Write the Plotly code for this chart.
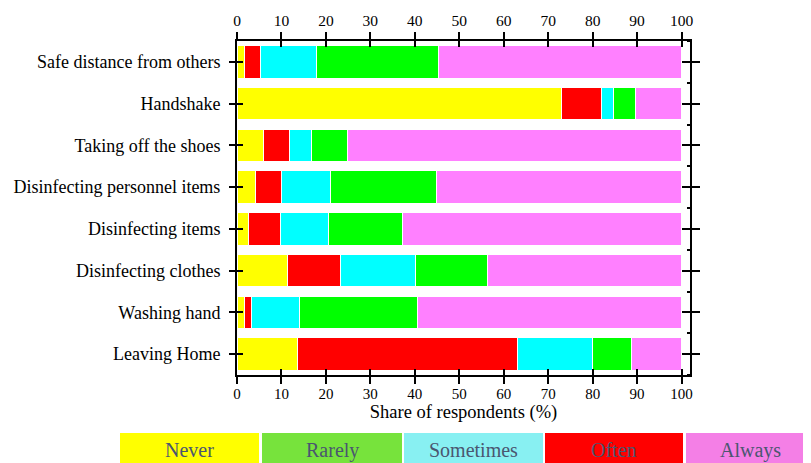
import plotly.graph_objects as go

categories = ["Safe distance from others", "Handshake", "Taking off the shoes",
              "Disinfecting personnel items", "Disinfecting items",
              "Disinfecting clothes", "Washing hand", "Leaving Home"]

never     = [1.6, 73.0, 5.9, 4.2, 2.6, 11.4, 1.7, 13.5]
often     = [3.7, 9.1, 5.8, 5.9, 7.1, 11.9, 1.5, 49.7]
sometimes = [12.6, 2.7, 5.0, 10.9, 10.8, 16.8, 10.8, 16.8]
rarely    = [27.4, 4.9, 8.1, 23.8, 16.7, 16.2, 26.5, 8.7]
always    = [54.7, 10.3, 75.2, 55.2, 62.8, 43.7, 59.5, 11.3]

x_ticks = [0, 10, 20, 30, 40, 50, 60, 70, 80, 90, 100]
x_title = "Share of respondents (%)"

legend_labels = ["Never", "Rarely", "Sometimes", "Often", "Always"]
legend_colors = ["#FFFF00", "#77E33C", "#88F0F2", "#FF0000", "#F47FE6"]

series = [("Never", never, "#FFFF00"), ("Often", often, "#FF0000"),
          ("Sometimes", sometimes, "#00FFFF"), ("Rarely", rarely, "#00FF00"),
          ("Always", always, "#FF80FF")]

SERIF = "Liberation Serif"

fig = go.Figure()
for name, vals, col in series:
    fig.add_trace(go.Bar(y=categories, x=vals, name=name, orientation="h",
                         marker=dict(color=col, line=dict(color="white", width=1)),
                         showlegend=False))

n = len(categories)
idx = list(range(n))
bounds = [i - 0.5 for i in range(n + 1)]
yr = [n - 0.5, -0.5]
xr = [0, 101.9]

# empty helper traces so overlay axes are drawn
for xa, ya in [("x2", "y"), ("x3", "y"), ("x4", "y"), ("x", "y2"), ("x", "y3"), ("x", "y4")]:
    fig.add_trace(go.Scatter(x=[], y=[], xaxis=xa, yaxis=ya, showlegend=False))

# page body has an 8px default margin; compensate
OFF = 8
plot_l, plot_w = 237 - OFF, 453
plot_t, plot_h = 41 - OFF, 334
W, H = 811 - OFF, 463 - OFF

common = dict(automargin=False, showgrid=False, zeroline=False,
              tickwidth=2, tickcolor="black")

fig.update_layout(
    width=W, height=H,
    margin=dict(l=plot_l, r=W - plot_l - plot_w, t=plot_t, b=H - plot_t - plot_h,
                autoexpand=False),
    paper_bgcolor="white", plot_bgcolor="white",
    barmode="stack", bargap=0.22,
    font=dict(family=SERIF, color="black"),
    xaxis=dict(range=xr, tickvals=x_ticks, ticks="outside", ticklen=7,
               showline=True, linecolor="black", linewidth=2,
               tickfont=dict(size=15, family=SERIF), ticklabelstandoff=-3,
               title=dict(text=x_title, font=dict(size=18.5, family=SERIF), standoff=0),
               **common),
    xaxis2=dict(overlaying="x", anchor="y", side="bottom", range=xr, tickvals=x_ticks,
                ticks="inside", ticklen=6, showticklabels=False, showline=False, **common),
    xaxis3=dict(overlaying="x", anchor="y", side="top", range=xr, tickvals=x_ticks,
                ticks="outside", ticklen=7, showline=True, linecolor="black", linewidth=2,
                tickfont=dict(size=15.5, family=SERIF), ticklabelstandoff=0, **common),
    xaxis4=dict(overlaying="x", anchor="y", side="top", range=xr, tickvals=x_ticks,
                ticks="inside", ticklen=6, showticklabels=False, showline=False, **common),
    yaxis=dict(type="category", categoryarray=categories, range=yr,
               ticks="outside", ticklen=6,
               showline=True, linecolor="black", linewidth=2, ticklabelstandoff=5,
               tickfont=dict(size=18, family=SERIF), **common),
    yaxis2=dict(overlaying="y", anchor="x", side="left", type="linear", range=yr,
                tickvals=idx, ticks="inside", ticklen=6, showticklabels=False,
                showline=False, **common),
    yaxis3=dict(overlaying="y", anchor="x", side="right", type="linear", range=yr,
                tickvals=idx, ticks="outside", ticklen=8,
                showline=True, linecolor="black", linewidth=2, showticklabels=False,
                minor=dict(tickvals=bounds, ticks="inside", ticklen=3, tickwidth=2,
                           tickcolor="black", showgrid=False), **common),
    yaxis4=dict(overlaying="y", anchor="x", side="right", type="linear", range=yr,
                tickvals=idx, ticks="inside", ticklen=8, showticklabels=False,
                showline=False, **common),
)

# custom legend boxes below the chart (positions given in window pixels)
plot_b = plot_t + plot_h
def px_x(p):
    return (p - OFF - plot_l) / plot_w
def px_y(p):
    return (plot_b - (p - OFF)) / plot_h

box_left = [120, 262, 404, 545, 686]
box_right = [259, 402, 543, 683, 815]
for lab, col, l, r in zip(legend_labels, legend_colors, box_left, box_right):
    fig.add_shape(type="rect", xref="paper", yref="paper",
                  x0=px_x(l), x1=px_x(r), y0=px_y(470), y1=px_y(433),
                  fillcolor=col, line=dict(width=0), layer="above")
    fig.add_annotation(xref="paper", yref="paper", x=px_x((l + r) / 2), y=px_y(450),
                       xanchor="center", yanchor="middle",
                       text=lab, showarrow=False,
                       font=dict(size=20, family=SERIF, color="#4A5670"))

fig.write_html("out.html")
